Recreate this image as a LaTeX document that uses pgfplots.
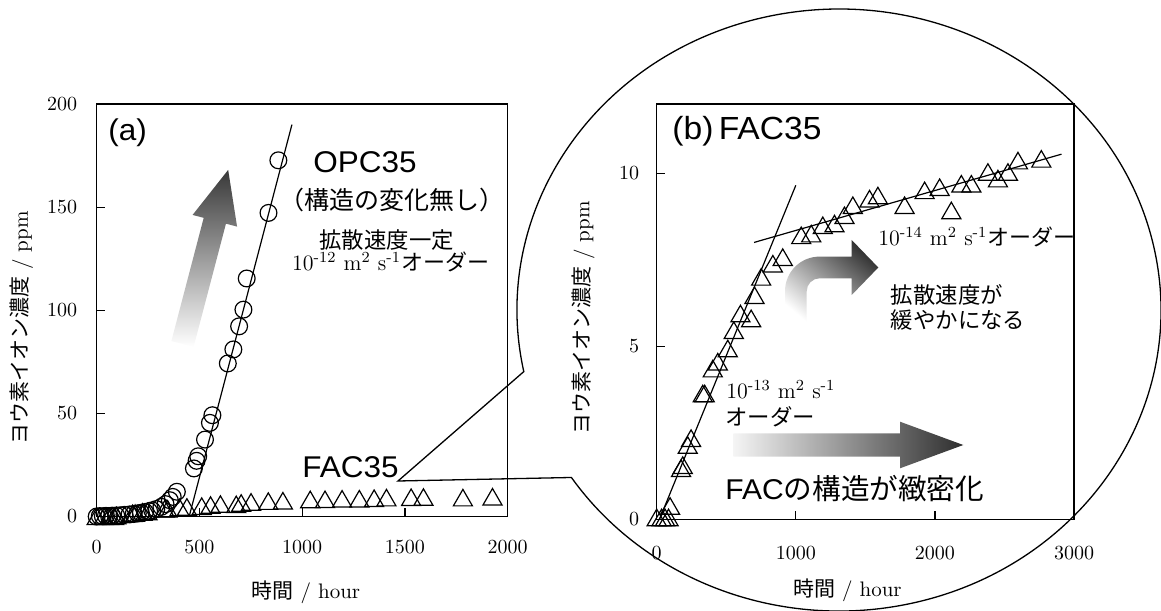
\documentclass[border=0pt]{standalone}
\usepackage{pgfplots}
\usepackage{pgfplotstable}
\pgfplotsset{compat=1.18}
\usepackage{fontspec}
\newfontfamily\jp{Noto Sans CJK JP}
\newfontfamily\ar[FakeStretch=1.05]{Liberation Sans}

\pgfplotstableread{
x y
0 0
15 0.2
30 0.1
45 0.3
60 0.2
75 0.4
95 0.5
115 0.6
135 0.8
160 1.0
180 1.2
200 1.5
215 1.8
235 2.2
255 2.6
270 3.0
290 3.6
315 4.7
335 6.0
356 7.9
370 9.5
390 12.0
473 23.3
486 27.0
494 29.2
527 37.3
551 45.4
563 49.1
638 74.2
665 81.0
693 92.2
714 100.3
730 115.4
836 147.2
884 172.7
}\opcdata

\pgfplotstableread{
x y
0 0.05
35 0.05
60 0.05
85 0.05
96 0.38
175 1.47
187 1.56
223 2.14
247 2.34
331 3.63
345 3.63
403 4.35
439 4.55
511 4.93
554 5.46
602 5.94
679 5.80
703 6.47
751 7.00
835 7.38
906 7.57
1039 8.20
1111 8.25
1194 8.49
1278 8.54
1350 8.78
1410 9.07
1530 9.26
1590 9.35
1782 9.07
1926 9.50
2034 9.59
2118 8.92
2190 9.69
2262 9.69
2381 10.03
2453 9.84
2525 10.03
2597 10.36
2765 10.41
}\facdata

\pgfplotsset{
  myaxis/.style={
    scale only axis, anchor=south west,
    tick align=inside, xtick pos=bottom, ytick pos=left,
    major tick length=4pt,
    axis line style={line width=0.75pt},
    every tick/.style={black, line width=0.6pt},
    clip=false,
    /pgf/number format/set thousands separator={},
    tick label style={font=\fontsize{9.7}{11}\selectfont},
    label style={font=\fontsize{10.5}{12}\selectfont},
  },
  opc/.style={only marks, mark=o, mark size=4.2pt, mark options={solid, line width=0.6pt}},
  fac/.style={only marks, mark=triangle, mark size=5.5pt, mark options={solid, line width=0.6pt, yshift=-1.3pt}},
}

\begin{document}
\begin{tikzpicture}
\useasboundingbox (0,0) rectangle (580.5pt,305pt);

% magnifier outline
\draw[line width=0.65pt] (261.9pt,119.2pt) arc[start angle=191.8, end angle=-146.2, x radius=161pt, y radius=150.5pt] -- (199pt,64.5pt) -- cycle;

% ---------- panel (a)
\begin{axis}[myaxis,
  at={(48.35pt,46.75pt)}, width=205.5pt, height=206.25pt,
  xmin=0, xmax=2000, ymin=0, ymax=200,
  xtick={0,500,1000,1500,2000}, ytick={0,50,100,150,200},
  xticklabel style={yshift=-8.5pt},
  yticklabel style={xshift=-6.2pt},
  xlabel={{\jp 時間} / hour},
  ylabel={{\jp ヨウ素イオン濃度} / ppm},
  xlabel style={at={(axis description cs:0.509,-0.183)}, anchor=center},
  ylabel style={at={(axis description cs:-0.1825,0.457)}, anchor=center},
]
\addplot[fac, restrict x to domain=0:2000] table {\facdata};
\addplot[opc] table {\opcdata};
\addplot[black, line width=0.6pt, no marks] coordinates {(450,0) (950,190)};
\end{axis}

% ---------- panel (b)
\begin{axis}[myaxis,
  at={(328.35pt,45.35pt)}, width=208.65pt, height=207.65pt,
  xmin=0, xmax=3000, ymin=0, ymax=12,
  xtick={0,1000,2000,3000}, ytick={0,5,10},
  xticklabel style={yshift=-9.9pt},
  yticklabel style={xshift=-5.2pt},
  xlabel={{\jp 時間} / hour},
  ylabel={{\jp ヨウ素イオン濃度} / ppm},
  xlabel style={at={(axis description cs:0.457,-0.170)}, anchor=center},
  ylabel style={at={(axis description cs:-0.176,0.485)}, anchor=center},
]
\addplot[fac] table {\facdata};
\addplot[black, line width=0.6pt, no marks] coordinates {(20,0) (1000,9.65)};
\addplot[black, line width=0.6pt, no marks] coordinates {(700,8.0) (2910,10.55)};
\end{axis}

% ---------- arrows and annotations (pixel coordinates, y measured from bottom)
\begin{scope}[x=0.5pt, y=0.5pt]
  % tilted up arrow in (a)
  \begin{scope}[shift={(182.5,266)}, rotate=-14.7]
    \shade[top color=black!78, bottom color=white]
      (-11.5,0) -- (11.5,0) -- (11.5,127.4) -- (23,127.4) -- (0,180) -- (-23,127.4) -- (-11.5,127.4) -- cycle;
  \end{scope}
  % curved arrow in (b)
  \shade[top color=black!80, bottom color=white, shading angle=-40]
    (785,281.7) -- (785,318.7) .. controls (785,338) and (800.4,353.4) .. (819.7,353.4)
    -- (851.7,353.4) -- (851.7,370) -- (878.3,342.5) -- (851.7,315) -- (851.7,331.7)
    -- (819.7,331.7) .. controls (812.5,331.7) and (806.7,325.9) .. (806.7,318.7)
    -- (806.7,281.7) -- cycle;
  % horizontal arrow in (b)
  \shade[left color=black!4, right color=black!82]
    (733.3,153.3) -- (900,153.3) -- (900,141.7) -- (963.3,165) -- (900,188.3) -- (900,176.7) -- (733.3,176.7) -- cycle;

  % texts (a)
  \node[anchor=west, inner sep=0pt, font=\ar\fontsize{15}{15}\selectfont] at (108,610-133) {(a)};
  \node[anchor=west, inner sep=0pt, font=\ar\fontsize{15}{15}\selectfont] at (313,610-162.5) {OPC35};
  \node[anchor=center, inner sep=0pt, font=\jp\fontsize{12.5}{13}\selectfont] at (392,610-200) {（構造の変化無し）};
  \node[anchor=west, inner sep=0pt, font=\jp\fontsize{11.2}{12}\selectfont] at (319,610-240) {拡散速度一定};
  \node[anchor=base west, inner sep=0pt, font=\fontsize{11}{12}\selectfont] at (291.7,610-270.7) {10\textsuperscript{-12} m\textsuperscript{2} s\textsuperscript{-1}{\jp オーダー}};
  \node[anchor=west, inner sep=0pt, font=\ar\fontsize{15}{15}\selectfont] at (302,610-466.7) {FAC35};

  % texts (b)
  \node[anchor=west, inner sep=0pt, font=\ar\fontsize{16}{16}\selectfont] at (672,610-131) {(b)\,FAC35};
  \node[anchor=west, inner sep=0pt, font=\fontsize{11}{12}\selectfont] at (878,610-236.7) {10\textsuperscript{-14} m\textsuperscript{2} s\textsuperscript{-1}{\jp オーダー}};
  \node[anchor=west, inner sep=0pt, font=\jp\fontsize{11.2}{12}\selectfont] at (890.5,610-295) {拡散速度が};
  \node[anchor=west, inner sep=0pt, font=\jp\fontsize{11.2}{12}\selectfont] at (890.5,610-320) {緩やかになる};
  \node[anchor=west, inner sep=0pt, font=\fontsize{11}{12}\selectfont] at (726,610-390) {10\textsuperscript{-13} m\textsuperscript{2} s\textsuperscript{-1}};
  \node[anchor=west, inner sep=0pt, font=\jp\fontsize{11.2}{12}\selectfont] at (725,610-416.7) {オーダー};
  \node[anchor=west, inner sep=0pt, font=\jp\fontsize{14.3}{15}\selectfont] at (725,610-488.3) {{\ar FAC}の構造が緻密化};
\end{scope}
\end{tikzpicture}
\end{document}
